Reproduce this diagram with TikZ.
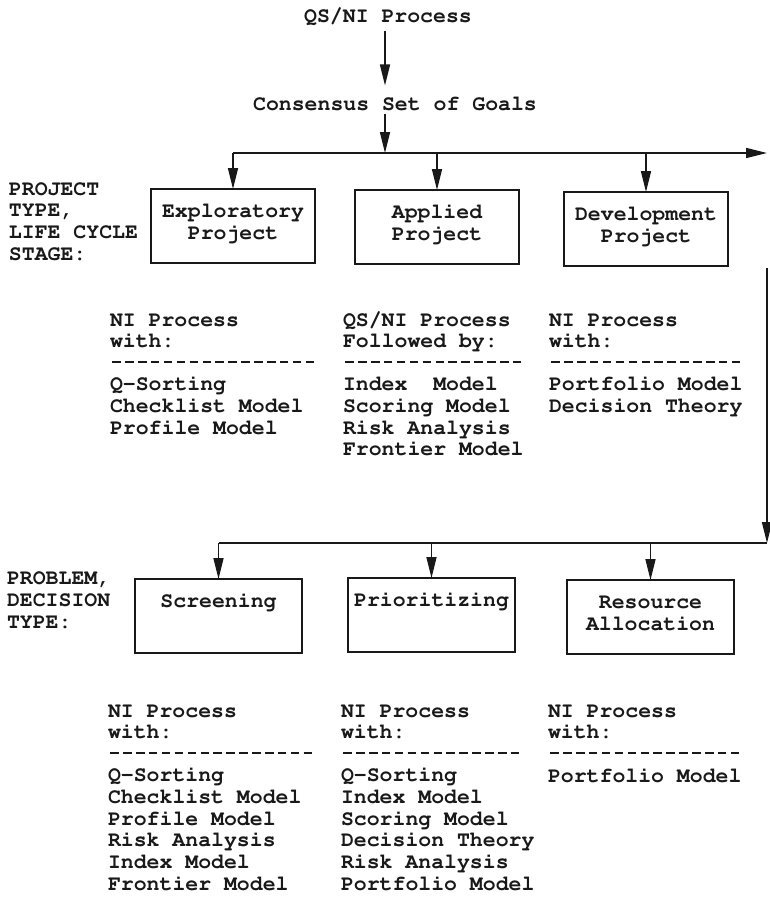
\documentclass[tikz,border=0pt]{standalone}
\usepackage[T1]{fontenc}
\usepackage{courier}
\usetikzlibrary{arrows.meta}

% typewriter text used throughout the chart
\newcommand\chartfont{\ttfamily\bfseries\fontsize{21.5pt}{21.65pt}\selectfont}
% a row of short separate dashes, one per character cell
\newcommand\dashcell{\makebox[0.6em][c]{\rule[6.2pt]{8.5pt}{2pt}}}
\newcommand\dashline[1]{\foreach \k in {1,...,#1}{\dashcell}}

\begin{document}
\begin{tikzpicture}[x=1pt,y=-1pt,
  every node/.style={inner sep=0pt, outer sep=0pt, font=\chartfont, text=black!90},
  link/.style={line width=1.5pt, draw=black!90},
  arr/.style={link, -{Triangle[length=21pt,width=10pt]}},
  frame/.style={draw=black!90, line width=1.5pt, anchor=north west,
                minimum width=164pt, minimum height=74pt},
  wideframe/.style={frame, minimum width=167pt},
  boxtext/.style={anchor=base, align=center},
  col/.style={anchor=base west, align=left},
  sidelabel/.style={anchor=base west, align=left}]

\useasboundingbox (0,0) rectangle (769,899);

% ---- top of the chart
\coordinate (spine) at (385,0);
\node[anchor=base] (qs) at (388,23) {QS/NI Process};
\node[anchor=base] (goals) at (395,110) {Consensus Set of Goals};
\draw[arr, shorten <=5pt, shorten >=11pt] (qs.south -| spine) -- (goals.north -| spine);

% ---- project type boxes (multi-line texts are placed by their last baseline)
\node[frame] (expl) at (151,189) {};
\node[frame] (appl) at (355,190) {};
\node[frame] (devl) at (564,192) {};
\node[boxtext] (explT) at ([yshift=-50.15pt]expl.north) {Exploratory\\Project};
\node[boxtext] (applT) at ([yshift=-50.15pt]appl.north) {Applied\\Project};
\node[boxtext] (devlT) at ([yshift=-50.15pt]devl.north) {Development\\Project};

\coordinate (busTop) at (385,153);
\coordinate (busTopEnd) at (767,153);
\draw[arr, shorten <=4pt] (goals.south -| spine) -- (busTop);
\draw[arr] (expl.north |- busTop) -- (busTopEnd);
\draw[arr] (expl.north |- busTop) -- (expl.north);
\draw[arr] (appl.north |- busTop) -- (appl.north);
\draw[arr] (devl.north |- busTop) -- (devl.north);

\node[sidelabel] (lab1) at (9,260) {PROJECT\\TYPE,\\LIFE CYCLE\\STAGE:};

% ---- methods per project type
\node[col] (c1) at (110,434.25) {NI Process\\with:\\\dashline{16}\\Q-Sorting\\Checklist Model\\Profile Model};
\node[col] (c2) at (343,455.9) {QS/NI Process\\Followed by:\\\dashline{14}\\Index\ \ Model\\Scoring Model\\Risk Analysis\\Frontier Model};
\node[col] (c3) at (549,412.6) {NI Process\\with:\\\dashline{15}\\Portfolio Model\\Decision Theory};

% ---- return line on the right and the decision type bus
\coordinate (riserTop) at (767,268);
\coordinate (riserBot) at (767,543);

\node[wideframe] (scr) at (135,579) {};
\node[wideframe] (pri) at (348,578) {};
\node[wideframe] (res) at (567,580) {};
\node[boxtext] (scrT) at ([yshift=-28.5pt]scr.north) {Screening};
\node[boxtext] (priT) at ([yshift=-28.5pt]pri.north) {Prioritizing};
\node[boxtext] (resT) at ([yshift=-50.15pt]res.north) {Resource\\Allocation};

\draw[arr] (riserTop) -- (riserBot);
\draw[link] (riserBot) -- (scr.north |- riserBot);
\draw[arr] (scr.north |- riserBot) -- (scr.north);
\draw[arr] (pri.north |- riserBot) -- (pri.north);
\draw[arr] (res.north |- riserBot) -- (res.north);

\node[sidelabel] (lab2) at (7,628) {PROBLEM,\\DECISION\\TYPE:};

% ---- methods per decision type
\node[col] (d1) at (108,890.2) {NI Process\\with:\\\dashline{16}\\Q-Sorting\\Checklist Model\\Profile Model\\Risk Analysis\\Index Model\\Frontier Model};
\node[col] (d2) at (341,890.2) {NI Process\\with:\\\dashline{14}\\Q-Sorting\\Index Model\\Scoring Model\\Decision Theory\\Risk Analysis\\Portfolio Model};
\node[col] (d3) at (548,782) {NI Process\\with:\\\dashline{15}\\Portfolio Model};

\end{tikzpicture}
\end{document}
